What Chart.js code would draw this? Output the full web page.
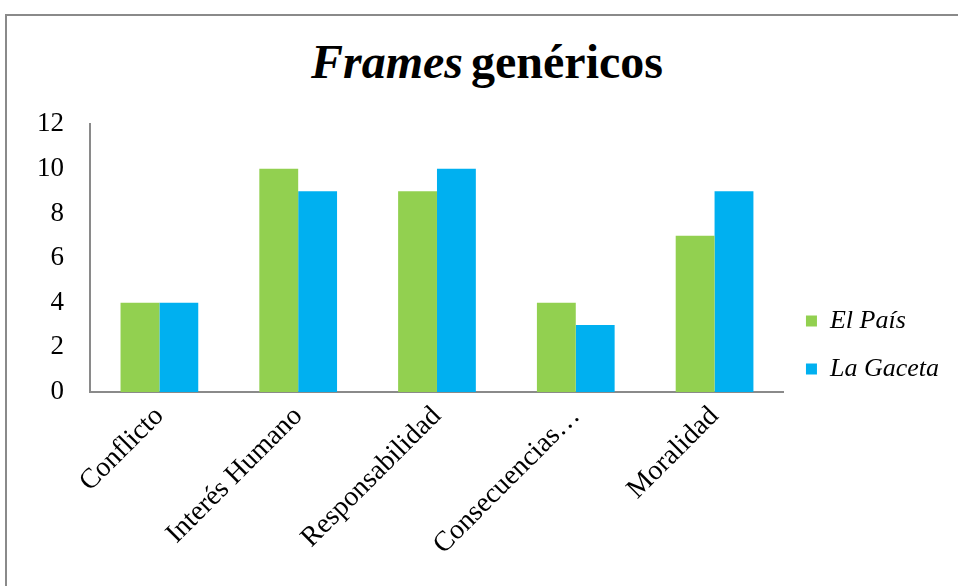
<!DOCTYPE html>
<html>
<head>
<meta charset="utf-8">
<script src="https://cdn.jsdelivr.net/npm/chart.js@4.4.0/dist/chart.umd.min.js"></script>
<style>
  body { margin: 0; background: #fff; width: 958px; height: 586px; overflow: hidden; position: relative; }
  .frame { position: absolute; left: 5px; top: 14px; width: 970px; height: 600px;
           border-left: 2px solid #8a8a8a; border-top: 2px solid #8a8a8a; }
  .title { position: absolute; left: 0; width: 974px; top: 34px; text-align: center;
           font-family: "Liberation Serif", serif; font-weight: bold; font-size: 48px; margin: 0; color: #000;
           word-spacing: -4px; }
  .wrap { position: absolute; left: 7px; top: 90px; width: 946px; height: 506px; }
</style>
</head>
<body>
<div class="frame"></div>
<h1 class="title"><i>Frames</i> genéricos</h1>
<div class="wrap"><canvas id="myChart"></canvas></div>
<script>
// datos
var categorias = ['Conflicto', 'Interés Humano', 'Responsabilidad', 'Consecuencias…', 'Moralidad'];
var elPais = [4, 10, 9, 4, 7];
var laGaceta = [4, 9, 10, 3, 9];

var serif = '"Liberation Serif", "Times New Roman", serif';

var ctx = document.getElementById('myChart').getContext('2d');
var chart = new Chart(ctx, {
  type: 'bar',
  data: {
    labels: categorias,
    datasets: [{
      label: 'El País',
      backgroundColor: '#92D050',
      categoryPercentage: 0.56,
      barPercentage: 1,
      data: elPais
    }, {
      label: 'La Gaceta',
      backgroundColor: '#00B0F0',
      categoryPercentage: 0.56,
      barPercentage: 1,
      data: laGaceta
    }]
  },
  options: {
    responsive: true,
    maintainAspectRatio: false,
    animation: false,
    layout: { padding: { top: 4, right: 4 } },
    plugins: {
      title: { display: false },
      tooltip: { enabled: false },
      legend: {
        position: 'right',
        labels: {
          boxWidth: 11,
          boxHeight: 11,
          padding: 22,
          color: '#000',
          font: { family: serif, size: 26, style: 'italic' }
        }
      }
    },
    scales: {
      x: {
        grid: { display: false },
        border: { color: '#8a8a8a', width: 2 },
        ticks: {
          color: '#000',
          maxRotation: 45,
          minRotation: 45,
          autoSkip: false,
          padding: 0,
          font: { family: serif, size: 28 }
        },
        afterFit: function (scale) { scale.height = 204; }
      },
      y: {
        min: 0,
        max: 12,
        grid: { display: false },
        border: { color: '#8a8a8a', width: 2 },
        ticks: {
          stepSize: 2,
          color: '#000',
          padding: 18,
          font: { family: serif, size: 27 }
        },
        afterFit: function (scale) { scale.width = 83; }
      }
    }
  }
});
</script>
</body>
</html>
